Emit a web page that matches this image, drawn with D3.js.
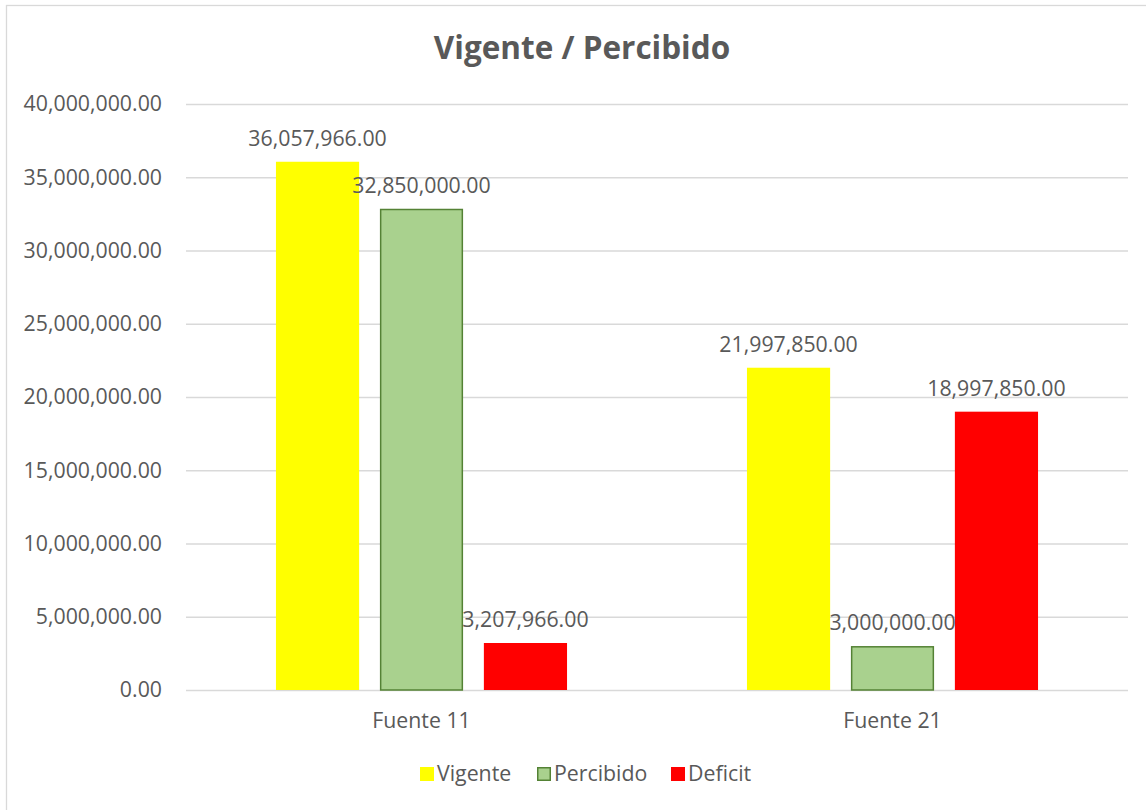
<!DOCTYPE html>
<html>
<head>
<meta charset="utf-8">
<script src="https://cdn.jsdelivr.net/npm/d3@7"></script>
<style>
  body { margin: 0; background: #fff; }
  svg { display: block; font-family: 'Open Sans', sans-serif; }
</style>
</head>
<body>
<div id="chart"></div>
<script>
const categories = ['Fuente 11', 'Fuente 21']
const seriesNames = ['Vigente', 'Percibido', 'Deficit']
const vigente = [36057966, 21997850]
const percibido = [32850000, 3000000]
const deficit = [3207966, 18997850]
const yTicks = [0, 5000000, 10000000, 15000000, 20000000, 25000000, 30000000, 35000000, 40000000]

const COLORS = { Vigente: '#ffff00', Percibido: '#a9d18e', Deficit: '#ff0000' }
const STROKES = { Vigente: 'none', Percibido: '#548235', Deficit: 'none' }
const TEXT = '#595959'
const FS = '21.3px'

const w = 1146
const h = 810
const margin = { top: 104, right: 18, bottom: 120, left: 186 }

const svg = d3.select('#chart').append('svg').attr('width', w).attr('height', h)

// chart frame
svg.append('rect')
    .attr('x', 6.5).attr('y', 5.5)
    .attr('width', w).attr('height', h)
    .attr('fill', '#fff').attr('stroke', '#d9d9d9').attr('stroke-width', 1.3)

svg.append('text')
    .attr('x', 582).attr('y', 59)
    .attr('text-anchor', 'middle')
    .attr('fill', TEXT).attr('font-size', '31.5px').attr('font-weight', 'bold')
    .text('Vigente / Percibido')

const y = d3.scaleLinear().domain([0, 40000000]).range([h - margin.bottom, margin.top])
const x0 = d3.scaleBand().domain(categories).range([margin.left, w - margin.right])

const groupW = x0.bandwidth() * 0.618
const x1 = d3.scaleBand().domain(seriesNames)
    .range([(x0.bandwidth() - groupW) / 2, (x0.bandwidth() + groupW) / 2])
    .paddingInner(0.2)

const fmt = d3.format(',.2f')

// gridlines + y labels
const yAxis = svg.append('g')
    .attr('transform', `translate(${margin.left},0)`)
    .call(d3.axisLeft(y).tickValues(yTicks).tickFormat(fmt)
        .tickSize(-(w - margin.left - margin.right)).tickPadding(24))
yAxis.select('.domain').remove()
yAxis.selectAll('line').attr('stroke', '#d9d9d9').attr('stroke-width', 1.3)
yAxis.selectAll('text').attr('fill', TEXT).attr('font-size', FS).attr('font-family', 'Open Sans')

const seriesData = { Vigente: vigente, Percibido: percibido, Deficit: deficit }
const bars = []
seriesNames.forEach(s => {
    categories.forEach((c, i) => bars.push({ series: s, cat: c, value: seriesData[s][i] }))
})

const inset = s => (STROKES[s] === 'none' ? 0 : 0.75)

const groups = svg.append('g')
groups.selectAll('rect')
    .data(bars).enter()
    .append('rect')
    .attr('x', d => x0(d.cat) + x1(d.series) + inset(d.series))
    .attr('y', d => y(d.value) + inset(d.series))
    .attr('width', d => x1.bandwidth() - 2 * inset(d.series))
    .attr('height', d => y(0) - y(d.value) - inset(d.series))
    .attr('fill', d => COLORS[d.series])
    .attr('stroke', d => STROKES[d.series])
    .attr('stroke-width', 1.5)

groups.selectAll('.bar-label')
    .data(bars).enter()
    .append('text')
    .attr('x', d => x0(d.cat) + x1(d.series) + x1.bandwidth() / 2)
    .attr('y', d => y(d.value) - 16)
    .attr('text-anchor', 'middle')
    .attr('fill', TEXT).attr('font-size', FS)
    .text(d => fmt(d.value))

// category labels (0 gridline acts as baseline)
svg.append('g').selectAll('text')
    .data(categories).enter()
    .append('text')
    .attr('x', d => x0(d) + x0.bandwidth() / 2)
    .attr('y', h - margin.bottom + 38)
    .attr('text-anchor', 'middle')
    .attr('fill', TEXT).attr('font-size', FS)
    .text(d => d)

// Legend
const legend = svg.append('g').attr('transform', 'translate(420, 767)')
const legendX = [0, 117, 251]
seriesNames.forEach((s, i) => {
    const row = legend.append('g').attr('transform', `translate(${legendX[i]}, 0)`)
    row.append('rect')
        .attr('x', inset(s)).attr('y', inset(s))
        .attr('width', 14 - 2 * inset(s)).attr('height', 14 - 2 * inset(s))
        .attr('fill', COLORS[s]).attr('stroke', STROKES[s]).attr('stroke-width', 1.5)
    row.append('text').attr('x', 17).attr('y', 14)
        .attr('fill', TEXT).attr('font-size', FS)
        .text(s)
})
</script>
</body>
</html>
